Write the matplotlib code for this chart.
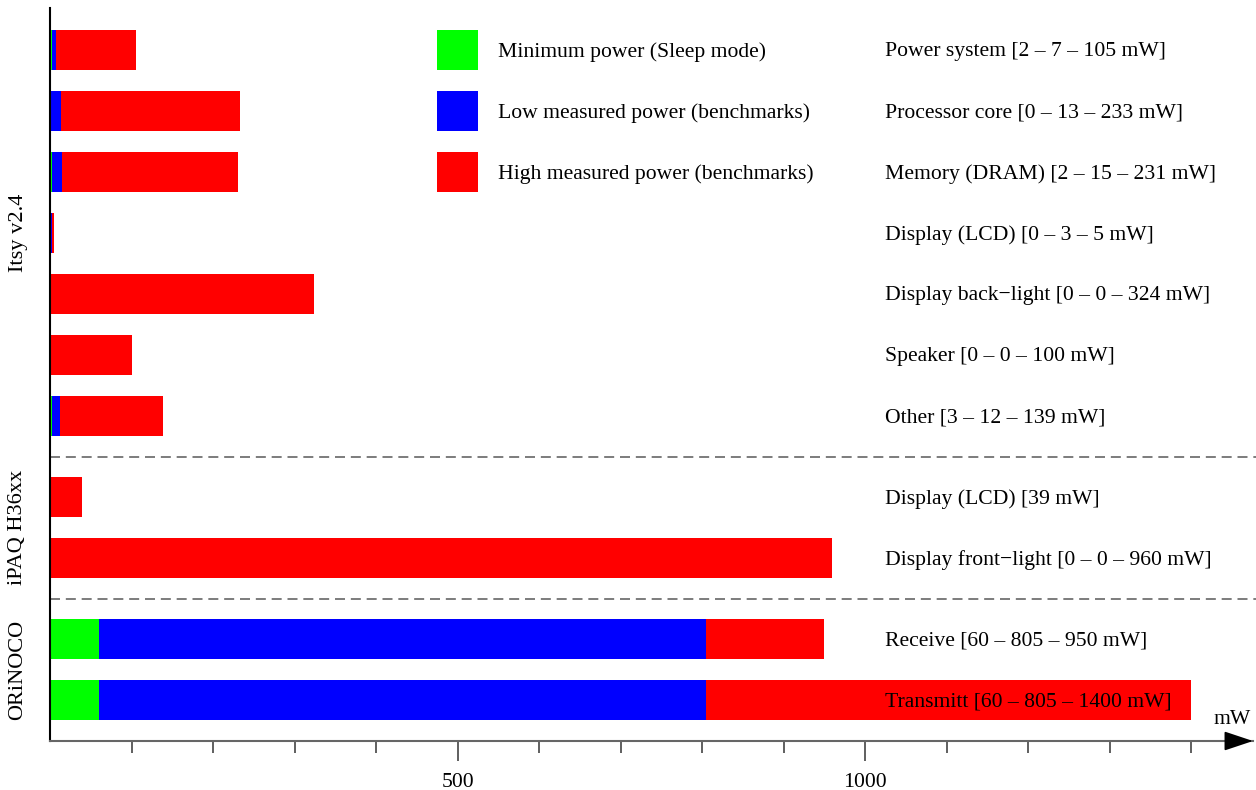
import matplotlib
matplotlib.use("Agg")
import matplotlib.pyplot as plt
from matplotlib.transforms import blended_transform_factory

# Power consumption per component: sleep minimum, low and high measured power (mW)
components = ["Power system", "Processor core", "Memory (DRAM)", "Display (LCD)",
              "Display back\u2212light", "Speaker", "Other",
              "Display (LCD)", "Display front\u2212light",
              "Receive", "Transmitt"]
min_power = [2, 0, 2, 0, 0, 0, 3, 0, 0, 60, 60]
low_power = [7, 13, 15, 3, 0, 0, 12, 0, 0, 805, 805]
high_power = [105, 233, 231, 5, 324, 100, 139, 39, 960, 950, 1400]
row_labels = ["Power system [2 \u2013 7 \u2013 105 mW]",
              "Processor core [0 \u2013 13 \u2013 233 mW]",
              "Memory (DRAM) [2 \u2013 15 \u2013 231 mW]",
              "Display (LCD) [0 \u2013 3 \u2013 5 mW]",
              "Display back\u2212light [0 \u2013 0 \u2013 324 mW]",
              "Speaker [0 \u2013 0 \u2013 100 mW]",
              "Other [3 \u2013 12 \u2013 139 mW]",
              "Display (LCD) [39 mW]",
              "Display front\u2212light [0 \u2013 0 \u2013 960 mW]",
              "Receive [60 \u2013 805 \u2013 950 mW]",
              "Transmitt [60 \u2013 805 \u2013 1400 mW]"]
groups = ["Itsy v2.4", "iPAQ H36xx", "ORiNOCO"]
group_sizes = [7, 2, 2]
legend_labels = ["Minimum power (Sleep mode)",
                 "Low measured power (benchmarks)",
                 "High measured power (benchmarks)"]
colors = ["#00ff00", "#0000ff", "#ff0000"]

plt.rcParams["font.family"] = ["Liberation Serif", "DejaVu Serif"]
FS = 15.6

fig = plt.figure(figsize=(12.56, 7.90), dpi=100)
W, H = 1256, 790
ax = fig.add_axes([50 / W, (H - 741) / H, (1253 - 50) / W, (741 - 8) / H])

# row positions with an extra gap between device groups
gap = 0.33
ypos = []
y = 0.0
for gi, n in enumerate(group_sizes):
    for k in range(n):
        ypos.append(y)
        y += 1
    y += gap
bar_h = 0.66
text_dy = 0.03  # nudge labels slightly down so they sit centred on the bars

for i, yy in enumerate(ypos):
    lo_g, lo_b, hi = min_power[i], low_power[i], high_power[i]
    ax.barh(yy, lo_g, left=0, height=bar_h, color=colors[0], lw=0)
    ax.barh(yy, lo_b - lo_g, left=lo_g, height=bar_h, color=colors[1], lw=0)
    ax.barh(yy, hi - lo_b, left=lo_b, height=bar_h, color=colors[2], lw=0)
    ax.text(1024.5, yy + text_dy, row_labels[i], fontsize=FS, va="center", ha="left")

# legend drawn as boxes on the first three rows
for k in range(3):
    ax.barh(ypos[k], 50, left=475, height=bar_h, color=colors[k], lw=0)
    ax.text(550, ypos[k] + text_dy, legend_labels[k], fontsize=FS,
            va="center", ha="left")

# dashed separators between groups
start = 0
for n in group_sizes[:-1]:
    start += n
    sep = (ypos[start - 1] + ypos[start]) / 2
    ax.plot([0, 1.003], [sep, sep], color="#666666", lw=1.2, ls=(0, (6, 3.5)),
            clip_on=False, transform=blended_transform_factory(ax.transAxes, ax.transData))

# group names on the left
trans = blended_transform_factory(fig.transFigure, ax.transData)
start = 0
for name, n in zip(groups, group_sizes):
    center = (ypos[start] + ypos[start + n - 1]) / 2
    ax.text(18 / W, center, name, rotation=90, fontsize=FS + 0.5, va="center",
            ha="center", transform=trans)
    start += n

ax.set_xlim(0, 1476)
ax.set_ylim(11.33, -0.69)
ax.set_yticks([])
ax.set_xticks([500, 1000])
ax.set_xticks(range(100, 1401, 100), minor=True)
ax.tick_params(axis="x", which="major", length=14.5, width=1.2, color="#444444",
               pad=8.5, labelsize=FS)
ax.tick_params(axis="x", which="minor", length=8.6, width=1.2, color="#444444")
for s in ["top", "right"]:
    ax.spines[s].set_visible(False)
ax.spines["left"].set_color("black")
ax.spines["left"].set_linewidth(1.5)
ax.spines["bottom"].set_color("#666666")
ax.spines["bottom"].set_linewidth(1.5)

# arrow head at the end of the x axis
ax.annotate("", xy=(1.0, 0), xytext=((1228 - 50) / (1253 - 50), 0),
            xycoords="axes fraction", textcoords="axes fraction",
            arrowprops=dict(arrowstyle="-|>,head_length=0.9,head_width=0.3",
                            mutation_scale=20, color="black", lw=1.2,
                            shrinkA=0, shrinkB=0),
            annotation_clip=False)
ax.text(0.998, 21 / (741 - 8), "mW", transform=ax.transAxes, fontsize=FS,
        ha="right", va="center")

fig.savefig("out.png", dpi=100)
